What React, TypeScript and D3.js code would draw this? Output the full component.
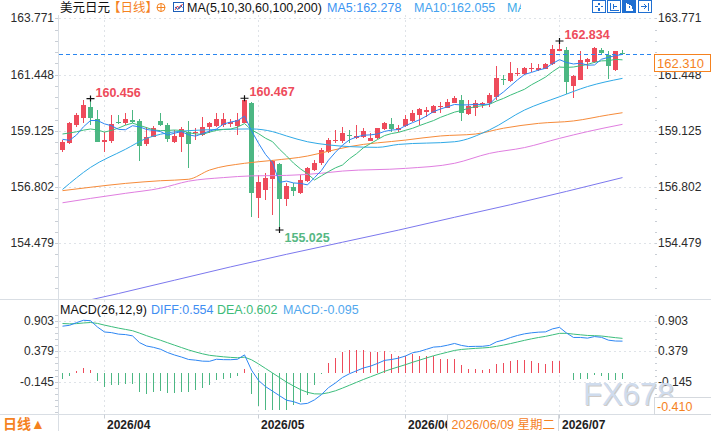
import React, { useEffect, useRef } from 'react'
import * as d3 from 'd3'

// USD/JPY daily bars, first session 2026/03/24: [open, high, low, close]
const candles: [number, number, number, number][] = [
  [158.330, 158.743, 158.261, 158.674],
  [158.633, 159.500, 158.564, 159.432],
  [159.363, 159.845, 159.294, 159.776],
  [159.638, 160.396, 159.459, 160.189],
  [160.093, 160.456, 159.363, 159.666],
  [159.597, 159.982, 158.647, 158.674],
  [158.674, 159.087, 158.261, 158.743],
  [158.715, 159.776, 158.633, 159.390],
  [159.500, 159.776, 159.400, 159.432],
  [159.432, 159.845, 159.363, 159.597],
  [159.569, 159.982, 159.432, 159.500],
  [159.528, 159.597, 157.889, 158.509],
  [158.564, 159.294, 158.495, 158.853],
  [158.881, 159.322, 158.853, 159.225],
  [159.542, 159.845, 159.322, 159.363],
  [159.363, 159.459, 158.674, 158.770],
  [158.647, 159.156, 158.605, 158.908],
  [158.881, 159.294, 158.261, 159.184],
  [159.087, 159.542, 157.600, 158.564],
  [159.018, 159.225, 158.743, 159.087],
  [158.950, 159.707, 158.908, 159.294],
  [159.266, 159.500, 159.018, 159.432],
  [159.322, 159.845, 159.266, 159.597],
  [159.363, 159.845, 159.294, 159.597],
  [159.404, 159.597, 159.294, 159.500],
  [159.322, 159.845, 158.950, 159.569],
  [159.459, 160.467, 159.432, 160.396],
  [160.286, 160.330, 155.575, 156.567],
  [156.333, 157.297, 155.506, 157.021],
  [156.677, 157.365, 156.264, 157.186],
  [157.118, 157.916, 155.644, 157.875],
  [157.737, 157.779, 155.025, 156.305],
  [156.291, 156.952, 156.016, 156.842],
  [156.815, 156.952, 156.429, 156.635],
  [156.539, 157.297, 156.512, 157.090],
  [157.063, 157.613, 157.021, 157.572],
  [157.503, 157.916, 157.476, 157.806],
  [157.779, 158.398, 157.710, 158.330],
  [158.261, 158.812, 158.192, 158.743],
  [158.688, 159.156, 158.633, 158.743],
  [158.701, 159.266, 158.633, 159.030],
  [158.949, 159.156, 158.605, 158.908],
  [158.812, 159.362, 158.784, 158.908],
  [158.867, 159.252, 158.839, 159.115],
  [158.701, 159.018, 158.690, 158.812],
  [158.812, 159.252, 158.784, 159.225],
  [159.197, 159.472, 159.156, 159.431],
  [159.390, 159.638, 159.087, 159.183],
  [159.170, 159.362, 159.087, 159.225],
  [159.335, 159.776, 159.294, 159.610],
  [159.541, 159.982, 159.500, 159.844],
  [159.776, 160.078, 159.362, 160.023],
  [159.913, 160.120, 159.707, 159.968],
  [159.872, 160.189, 159.844, 160.134],
  [160.092, 160.327, 159.844, 160.147],
  [160.078, 160.437, 160.051, 160.313],
  [160.285, 160.561, 160.258, 160.492],
  [160.395, 160.602, 159.528, 159.872],
  [159.817, 160.395, 159.776, 160.147],
  [160.078, 160.395, 159.734, 160.258],
  [160.216, 160.327, 160.051, 160.271],
  [160.285, 160.671, 160.120, 160.588],
  [160.533, 161.800, 160.395, 161.304],
  [161.263, 161.428, 161.000, 161.222],
  [161.194, 161.952, 161.153, 161.511],
  [161.456, 161.704, 161.401, 161.511],
  [161.456, 161.773, 161.428, 161.704],
  [161.676, 161.910, 161.566, 161.731],
  [161.649, 161.869, 161.594, 161.704],
  [161.690, 161.910, 161.662, 161.869],
  [161.869, 162.668, 161.841, 162.503],
  [162.434, 162.834, 162.420, 162.500],
  [162.461, 162.600, 160.630, 161.150],
  [160.974, 161.428, 160.492, 161.400],
  [161.236, 162.434, 161.220, 162.040],
  [161.979, 162.145, 161.690, 162.070],
  [161.952, 162.580, 161.940, 162.560],
  [162.461, 162.530, 162.255, 162.330],
  [162.255, 162.420, 161.263, 161.790],
  [161.649, 162.420, 161.594, 162.400],
  [162.340, 162.450, 162.250, 162.310],
]

// closes of the nine sessions before the first bar (seed for MA5 / MA10)
const priorCloses = [159.0, 159.3, 159.5, 159.2, 159.05, 159.64, 158.67, 158.49, 158.38]

// long averages as [bar index, value]
const ma30Points: [number, number][] = [
  [0, 156.70], [4, 157.61], [9, 158.36], [12, 158.81], [14, 158.98], [18, 159.13], [23, 159.18],
  [27, 159.20], [30, 159.09], [32, 158.91], [35, 158.67], [38, 158.54], [41, 158.47], [45, 158.44],
  [48, 158.56], [56, 158.67], [61, 159.16], [66, 159.98], [71, 160.53], [75, 160.95], [80, 161.29],
]
const ma60Points: [number, number][] = [
  [0, 156.65], [4, 156.79], [9, 156.95], [14, 157.06], [18, 157.12], [21, 157.50], [26, 157.78],
  [30, 157.90], [35, 158.08], [38, 158.28], [41, 158.47], [49, 158.74], [54, 158.91], [59, 158.99],
  [63, 159.23], [68, 159.43], [73, 159.53], [78, 159.78], [80, 159.87],
]
const ma100Points: [number, number][] = [
  [0, 156.15], [4, 156.33], [9, 156.54], [14, 156.75], [18, 157.04], [23, 157.19], [27, 157.26],
  [32, 157.28], [37, 157.37], [40, 157.46], [49, 157.57], [56, 157.78], [61, 158.19], [66, 158.43],
  [71, 158.81], [75, 159.09], [80, 159.39],
]
const ma200Points: [number, number][] = [
  [0, 151.88], [8, 152.40], [16, 152.95], [24, 153.50], [32, 154.02], [40, 154.52], [48, 155.02],
  [56, 155.55], [64, 156.07], [72, 156.62], [80, 157.19],
]

// MACD(26,12,9) histogram, one bar per session
const macdBars = [
  -0.092, -0.05, 0.034, 0.092, 0.063, -0.126, -0.236, -0.207, -0.207, -0.178,
  -0.178, -0.328, -0.356, -0.322, -0.31, -0.339, -0.339, -0.328, -0.328, -0.282,
  -0.253, -0.207, -0.109, -0.098, -0.08, -0.052, 0.08, -0.356, -0.569, -0.626,
  -0.626, -0.626, -0.626, -0.54, -0.5, -0.38, -0.207, -0.02, 0.175, 0.27,
  0.368, 0.397, 0.397, 0.397, 0.368, 0.368, 0.379, 0.328, 0.299, 0.299,
  0.328, 0.299, 0.299, 0.299, 0.253, 0.241, 0.241, 0.138, 0.08, 0.069,
  0.057, 0.069, 0.155, 0.172, 0.207, 0.224, 0.224, 0.207, 0.184, 0.155,
  0.207, 0.207, 0.01, -0.115, -0.092, -0.092, -0.03, -0.046, -0.115, -0.115,
  -0.095,
]
const deaLast = 0.6018

const firstSession = [2026, 3, 24]
const priceTicks = [163.771, 161.448, 159.125, 156.802, 154.479]
const macdTicks = [0.903, 0.379, -0.145]
const extremeMarks = [
  { i: 4, kind: 'high' },
  { i: 26, kind: 'high' },
  { i: 31, kind: 'low' },
  { i: 71, kind: 'high' },
]
const cursorIndex = 55
const cursorMacd = -0.410
const weekdayNames = ['星期日', '星期一', '星期二', '星期三', '星期四', '星期五', '星期六']

const FONT = 'Arial, "Liberation Sans", "Noto Sans CJK SC", sans-serif'
const UP = '#ee4b5b'
const DOWN = '#4cb783'
const ORANGE = '#f5821f'
const GRID = '#dfe3e8'

function drawChart(node: SVGSVGElement) {
  const svg = d3.select(node)
  svg.selectAll('*').remove()
  svg.attr('font-family', FONT)

  const n = candles.length
  const left = 58
  const right = 655
  const mainTop = 15
  const mainBottom = 299
  const axisTop = 414.5

  const x = d3.scaleLinear().domain([0, n - 1]).range([62, 622])
  const y = d3.scaleLinear().domain([154.479, 163.771]).range([243.2, 18.3])
  const ym = d3.scaleLinear().domain([-0.145, 0.903]).range([381.7, 320.9])

  // moving averages of the closes
  const closes = candles.map(d => d[3])
  const history = priorCloses.concat(closes)
  const off = priorCloses.length
  const sma = (len: number) =>
    closes.map((_, i) => d3.mean(history.slice(i + off - len + 1, i + off + 1)) as number)
  const ma5 = sma(5)
  const ma10 = sma(10)

  // DEA is the 9-day EMA of DIF and each bar is 2*(DIF-DEA), so walk back from the last DEA
  const dea = new Array<number>(n)
  dea[n - 1] = deaLast
  for (let i = n - 1; i > 0; i--) dea[i - 1] = dea[i] - macdBars[i] / 8
  const dif = macdBars.map((b, i) => dea[i] + b / 2)

  // trading sessions (weekdays)
  const sessions: Date[] = []
  for (let d = new Date(firstSession[0], firstSession[1] - 1, firstSession[2]); sessions.length < n; d = d3.timeDay.offset(d, 1)) {
    if (d.getDay() !== 0 && d.getDay() !== 6) sessions.push(d)
  }
  const monthStarts = d3.range(1, n).filter(i => sessions[i].getMonth() !== sessions[i - 1].getMonth())

  const defs = svg.append('defs')
  defs.append('clipPath').attr('id', 'mainClip')
    .append('rect').attr('x', left).attr('y', mainTop).attr('width', right - left).attr('height', mainBottom - mainTop)
  defs.append('clipPath').attr('id', 'macdClip')
    .append('rect').attr('x', left).attr('y', mainBottom).attr('width', right - left).attr('height', axisTop - mainBottom)
  defs.append('clipPath').attr('id', 'legendClip')
    .append('rect').attr('x', 0).attr('y', 0).attr('width', 521).attr('height', 15)

  // frame lines
  const frame = svg.append('g').attr('stroke', '#d9dee4').attr('shape-rendering', 'crispEdges')
  frame.append('line').attr('x1', left + 0.5).attr('x2', left + 0.5).attr('y1', mainTop).attr('y2', 431)
  frame.append('line').attr('x1', 0).attr('x2', 711).attr('y1', mainBottom + 0.5).attr('y2', mainBottom + 0.5)
  frame.append('line').attr('x1', 0).attr('x2', 711).attr('y1', axisTop).attr('y2', axisTop)

  // dotted grid
  const grid = svg.append('g').attr('stroke', GRID).attr('stroke-dasharray', '2,3').attr('shape-rendering', 'crispEdges')
  grid.selectAll('.hp').data(priceTicks).enter().append('line')
    .attr('x1', left + 1).attr('x2', right)
    .attr('y1', d => Math.round(y(d)) + 0.5).attr('y2', d => Math.round(y(d)) + 0.5)
  grid.selectAll('.hm').data(macdTicks).enter().append('line')
    .attr('x1', left + 1).attr('x2', right)
    .attr('y1', d => Math.round(ym(d)) + 0.5).attr('y2', d => Math.round(ym(d)) + 0.5)
  grid.selectAll('.v').data(monthStarts).enter().append('line')
    .attr('x1', i => x(i) + 0.5).attr('x2', i => x(i) + 0.5)
    .attr('y1', mainTop).attr('y2', axisTop)

  // minor ticks on both axes
  const minor = svg.append('g').attr('stroke', '#c9ced5').attr('shape-rendering', 'crispEdges')
  const pStep = (priceTicks[0] - priceTicks[1]) / 5
  const pMinor = d3.range(-25, 30).map(k => priceTicks[4] + k * pStep).filter(v => y(v) > mainTop + 2 && y(v) < mainBottom - 2)
  const mStep = (macdTicks[0] - macdTicks[1]) / 5
  const mMinor = d3.range(-15, 12).map(k => macdTicks[2] + k * mStep).filter(v => ym(v) > mainBottom + 4 && ym(v) < axisTop - 2)
  const minorYs = pMinor.map(v => Math.round(y(v)) + 0.5).concat(mMinor.map(v => Math.round(ym(v)) + 0.5))
  minor.selectAll('.l').data(minorYs).enter().append('line')
    .attr('x1', left - 3).attr('x2', left).attr('y1', d => d).attr('y2', d => d)
  minor.selectAll('.r').data(minorYs).enter().append('line')
    .attr('x1', right).attr('x2', right + 2).attr('y1', d => d).attr('y2', d => d)

  // candles
  const plot = svg.append('g').attr('clip-path', 'url(#mainClip)')
  const bar = plot.selectAll('.bar').data(candles).enter().append('g').attr('shape-rendering', 'crispEdges')
  bar.append('line')
    .attr('x1', (_, i) => Math.round(x(i)) + 0.5).attr('x2', (_, i) => Math.round(x(i)) + 0.5)
    .attr('y1', d => y(d[1])).attr('y2', d => y(d[2]))
    .attr('stroke', d => (d[3] >= d[0] ? UP : DOWN))
  bar.append('rect')
    .attr('x', (_, i) => Math.round(x(i)) - 2)
    .attr('y', d => y(Math.max(d[0], d[3])))
    .attr('width', 5)
    .attr('height', d => Math.max(1, Math.abs(y(d[0]) - y(d[3]))))
    .attr('fill', d => (d[3] >= d[0] ? UP : DOWN))

  // moving average lines
  const dense = d3.line<number>().x((_, i) => x(i) + 0.5).y(v => y(v))
  const sparse = d3.line<[number, number]>().x(d => x(d[0]) + 0.5).y(d => y(d[1])).curve(d3.curveMonotoneX)
  const lines: [string, string][] = [
    [sparse(ma200Points) as string, '#7c78ee'],
    [sparse(ma100Points) as string, '#e07ee0'],
    [sparse(ma60Points) as string, '#f68b3a'],
    [sparse(ma30Points) as string, '#2fa9e6'],
    [dense(ma10) as string, '#3cbd7c'],
    [dense(ma5) as string, '#2d86f3'],
  ]
  plot.selectAll('.ma').data(lines).enter().append('path')
    .attr('d', d => d[0]).attr('fill', 'none').attr('stroke', d => d[1]).attr('stroke-width', 1)

  // high / low markers
  extremeMarks.forEach(m => {
    const c = candles[m.i]
    const v = m.kind === 'high' ? c[1] : c[2]
    const cx = Math.round(x(m.i)) + 0.5
    const cy = y(v)
    svg.append('path').attr('d', `M${cx - 4},${cy}H${cx + 4}M${cx},${cy - 3}V${cy + 3}`)
      .attr('stroke', '#111').attr('stroke-width', 1.2)
    svg.append('text').attr('x', cx + 5).attr('y', m.kind === 'high' ? cy - 2 : cy + 12)
      .attr('font-size', 12.5).attr('font-weight', 'bold')
      .attr('fill', m.kind === 'high' ? UP : '#55b883')
      .text(v.toFixed(3))
  })

  // last price line and box
  const last = closes[n - 1]
  const ly = y(last)
  svg.append('line').attr('x1', left + 1).attr('x2', right).attr('y1', Math.round(ly) + 0.5).attr('y2', Math.round(ly) + 0.5)
    .attr('stroke', '#2a86f0').attr('stroke-dasharray', '4,3')

  // axis labels
  const labels = svg.append('g').attr('font-size', 12).attr('fill', '#2b2b2b')
  labels.selectAll('.pl').data(priceTicks).enter().append('text')
    .attr('x', 54).attr('y', d => y(d) + 4).attr('text-anchor', 'end').text(d => d.toFixed(3))
  labels.selectAll('.pr').data(priceTicks).enter().append('text')
    .attr('x', 658).attr('y', d => y(d) + 4).text(d => d.toFixed(3))
  labels.selectAll('.ml').data(macdTicks).enter().append('text')
    .attr('x', 54).attr('y', d => ym(d) + 4).attr('text-anchor', 'end').text(d => d.toFixed(3))
  labels.selectAll('.mr').data(macdTicks).enter().append('text')
    .attr('x', 658).attr('y', d => ym(d) + 4).text(d => d.toFixed(3))

  const pb = Math.round(ly) + 0.5
  svg.append('rect').attr('x', 654.5).attr('y', pb).attr('width', 56).attr('height', 17)
    .attr('fill', '#fff').attr('stroke', ORANGE)
  svg.append('text').attr('x', 657).attr('y', pb + 13).attr('font-size', 13).attr('fill', ORANGE).text(last.toFixed(3))

  // MACD panel
  const macd = svg.append('g').attr('clip-path', 'url(#macdClip)')
  macd.selectAll('.hist').data(macdBars).enter().append('line')
    .attr('shape-rendering', 'crispEdges')
    .attr('x1', (_, i) => Math.round(x(i)) + 0.5).attr('x2', (_, i) => Math.round(x(i)) + 0.5)
    .attr('y1', ym(0)).attr('y2', d => ym(d))
    .attr('stroke', d => (d >= 0 ? UP : DOWN)).attr('stroke-width', 1.2)
  const mline = d3.line<number>().x((_, i) => x(i) + 0.5).y(v => ym(v))
  macd.append('path').attr('d', mline(dea) as string).attr('fill', 'none').attr('stroke', '#3cbd7c')
  macd.append('path').attr('d', mline(dif) as string).attr('fill', 'none').attr('stroke', '#2d86f3')

  const mhead = svg.append('text').attr('x', 60).attr('y', 314).attr('font-size', 12.5)
  mhead.append('tspan').attr('fill', '#111').text('MACD(26,12,9)')
  mhead.append('tspan').attr('x', 151).attr('fill', '#3f8ef2').text(`DIFF:${dif[n - 1].toFixed(3)}`)
  mhead.append('tspan').attr('x', 217).attr('fill', '#3dbb78').text(`DEA:${dea[n - 1].toFixed(3)}`)
  mhead.append('tspan').attr('x', 283).attr('fill', '#52a8ee').text(`MACD:${macdBars[n - 1].toFixed(3)}`)

  // watermark
  svg.append('text').attr('x', 584).attr('y', 406).attr('font-size', 31).attr('fill', '#a89d96').attr('opacity', 0.55).text('FX678')
  svg.append('text').attr('x', 583).attr('y', 405).attr('font-size', 31).attr('fill', '#cfdcee').text('FX678')

  // cursor value on the MACD axis
  const cy = Math.round(ym(cursorMacd)) + 0.5
  svg.append('rect').attr('x', 654.5).attr('y', cy).attr('width', 57).attr('height', axisTop - cy)
    .attr('fill', '#fff').attr('stroke', '#d5d9de')
  svg.append('text').attr('x', 657).attr('y', cy + 13).attr('font-size', 12.5).attr('fill', ORANGE).text(cursorMacd.toFixed(3))

  // date axis
  const fmtMonth = d3.timeFormat('%Y/%m')
  const dates = svg.append('g')
  dates.selectAll('.tk').data(monthStarts).enter().append('line')
    .attr('x1', i => x(i) + 0.5).attr('x2', i => x(i) + 0.5).attr('y1', axisTop).attr('y2', axisTop + 4)
    .attr('stroke', '#c9ced5')
  dates.selectAll('.dl').data(monthStarts).enter().append('text')
    .attr('x', i => x(i) + 3).attr('y', 428.5).attr('font-size', 12).attr('font-weight', 'bold').attr('fill', '#222')
    .text(i => fmtMonth(sessions[i]))
  const cd = sessions[cursorIndex]
  const cx = Math.round(x(cursorIndex)) + 0.5
  svg.append('rect').attr('x', cx).attr('y', axisTop).attr('width', 111).attr('height', 17)
    .attr('fill', '#fff').attr('stroke', '#d5d9de')
  svg.append('text').attr('x', cx + 4).attr('y', 428.5).attr('font-size', 12.5).attr('fill', ORANGE)
    .text(`${d3.timeFormat('%Y/%m/%d')(cd)} ${weekdayNames[cd.getDay()]}`)
  svg.append('text').attr('x', 3).attr('y', 429).attr('font-size', 14).attr('font-weight', 'bold').attr('fill', ORANGE).text('日线▲')

  // title row
  const head = svg.append('g').attr('font-size', 12.5)
  head.append('text').attr('x', 60).attr('y', 12).attr('fill', '#111').text('美元日元')
  head.append('text').attr('x', 108).attr('y', 12).attr('fill', ORANGE).text('【日线】')
  head.append('circle').attr('cx', 161).attr('cy', 7.5).attr('r', 4).attr('fill', 'none').attr('stroke', ORANGE)
  head.append('path').attr('d', 'M157,7.5H165M161,3.5V11.5').attr('stroke', ORANGE)
  head.append('rect').attr('x', 173.5).attr('y', 2.5).attr('width', 10).attr('height', 9).attr('fill', '#fff').attr('stroke', '#1d5fb8')
  head.append('path').attr('d', 'M175,10L177.5,6L179.5,8.5L182.5,4').attr('fill', 'none').attr('stroke', '#e0303a')
  head.append('path').attr('d', 'M175,7L178,9.5L180.5,5.5L182.5,7.5').attr('fill', 'none').attr('stroke', '#1d5fb8')
  head.append('text').attr('x', 187).attr('y', 12).attr('fill', '#111').text('MA(5,10,30,60,100,200)')
  const legend = head.append('g').attr('clip-path', 'url(#legendClip)')
  legend.append('text').attr('x', 327).attr('y', 12).attr('fill', '#3a93f2').text(`MA5:${(Math.round(ma5[n - 1] * 1000) / 1000).toFixed(3)}`)
  legend.append('text').attr('x', 414).attr('y', 12).attr('fill', '#45a2ef').text(`MA10:${(Math.round(ma10[n - 1] * 1000) / 1000).toFixed(3)}`)
  legend.append('text').attr('x', 507).attr('y', 12).attr('fill', '#3aaae8').text(`MA30:${ma30Points[ma30Points.length - 1][1].toFixed(3)}`)

  // toolbar buttons
  const tools = svg.append('g').attr('stroke', '#1f6fd1').attr('fill', 'none').attr('shape-rendering', 'crispEdges')
  const bx = [592.5, 607.5, 622.5, 638.5]
  bx.forEach((bxv, k) => {
    tools.append('rect').attr('x', bxv).attr('y', 0.5).attr('width', 13).attr('height', 12)
      .attr('fill', k === 2 ? '#1f6fd1' : '#fff')
  })
  tools.append('path').attr('d', 'M599,2.5V5M599,8V10.5M595,6.5H597.5M600.5,6.5H603').attr('stroke-width', 1.5)
  tools.append('path').attr('d', 'M610.5,2.5V10.5H618.5M613,4V8.5M613,6H617')
  tools.append('path').attr('d', 'M626,3V10H633M628,4.5L632,7L628,9Z').attr('stroke', '#fff').attr('fill', '#fff')
  tools.append('path').attr('d', 'M648.5,2.5V10.5M641,6.5H646.5M644,4L646.5,6.5L644,9')
}

export default function App() {
  const ref = useRef<SVGSVGElement>(null)
  useEffect(() => {
    if (ref.current) drawChart(ref.current)
  }, [])
  return (
    <svg
      ref={ref}
      width={711}
      height={431}
      style={{ position: 'fixed', left: 0, top: 0, background: '#fff' }}
    />
  )
}
